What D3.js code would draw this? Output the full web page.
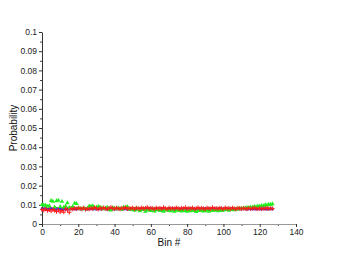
<!DOCTYPE html>
<html>
<head>
<meta charset="utf-8">
<script src="https://cdn.jsdelivr.net/npm/d3@7"></script>
<style>
  html, body { margin: 0; padding: 0; background: #fff; }
  svg { display: block; font-family: "Liberation Sans", Arial, sans-serif; }
</style>
</head>
<body>
<div id="chart"></div>
<script>
/* ── Data ─────────────────────────────────────────────────────────── */

const xTicks = [0, 20, 40, 60, 80, 100, 120, 140];
const yTicks = [0, 0.01, 0.02, 0.03, 0.04, 0.05, 0.06, 0.07, 0.08, 0.09, 0.1];
const yTickLabels = ['0', '0.01', '0.02', '0.03', '0.04', '0.05', '0.06', '0.07', '0.08', '0.09', '0.1'];

// bins 0..127
const blackVals = [
  0.0081, 0.0080, 0.0082, 0.0079, 0.0080, 0.0081, 0.0079, 0.0080, 0.0082, 0.0080, 0.0079, 0.0081, 0.0080, 0.0078, 0.0081, 0.0080,
  0.0079, 0.0081, 0.0080, 0.0082, 0.0080, 0.0079, 0.0081, 0.0080, 0.0078, 0.0080, 0.0081, 0.0079, 0.0080, 0.0082, 0.0080, 0.0079,
  0.0080, 0.0081, 0.0079, 0.0080, 0.0078, 0.0080, 0.0081, 0.0079, 0.0080, 0.0082, 0.0079, 0.0080, 0.0081, 0.0078, 0.0080, 0.0079,
  0.0081, 0.0080, 0.0079, 0.0080, 0.0082, 0.0079, 0.0080, 0.0078, 0.0081, 0.0080, 0.0079, 0.0081, 0.0080, 0.0078, 0.0080, 0.0081,
  0.0079, 0.0080, 0.0081, 0.0079, 0.0080, 0.0078, 0.0081, 0.0080, 0.0079, 0.0081, 0.0080, 0.0078, 0.0080, 0.0079, 0.0081, 0.0080,
  0.0079, 0.0080, 0.0081, 0.0078, 0.0080, 0.0079, 0.0081, 0.0080, 0.0079, 0.0080, 0.0081, 0.0079, 0.0080, 0.0078, 0.0080, 0.0081,
  0.0080, 0.0079, 0.0081, 0.0080, 0.0078, 0.0080, 0.0081, 0.0079, 0.0080, 0.0081, 0.0079, 0.0080, 0.0078, 0.0081, 0.0080, 0.0079,
  0.0080, 0.0081, 0.0079, 0.0080, 0.0081, 0.0079, 0.0080, 0.0078, 0.0080, 0.0081, 0.0079, 0.0080, 0.0081, 0.0079, 0.0080, 0.0080
];

const blueVals = [
  0.0078, 0.0079, 0.0078, 0.0077, 0.0078, 0.0079, 0.0078, 0.0078, 0.0077, 0.0079, 0.0078, 0.0078, 0.0079, 0.0077, 0.0078, 0.0078,
  0.0079, 0.0078, 0.0078, 0.0077, 0.0079, 0.0078, 0.0078, 0.0079, 0.0078, 0.0077, 0.0078, 0.0079, 0.0078, 0.0078, 0.0077, 0.0079,
  0.0078, 0.0078, 0.0079, 0.0078, 0.0077, 0.0078, 0.0079, 0.0078, 0.0078, 0.0077, 0.0079, 0.0078, 0.0078, 0.0079, 0.0078, 0.0077,
  0.0078, 0.0079, 0.0078, 0.0078, 0.0077, 0.0079, 0.0078, 0.0078, 0.0079, 0.0078, 0.0077, 0.0078, 0.0079, 0.0078, 0.0078, 0.0077,
  0.0079, 0.0078, 0.0078, 0.0079, 0.0078, 0.0077, 0.0078, 0.0079, 0.0078, 0.0078, 0.0077, 0.0079, 0.0078, 0.0078, 0.0079, 0.0078,
  0.0077, 0.0078, 0.0079, 0.0078, 0.0078, 0.0077, 0.0079, 0.0078, 0.0078, 0.0079, 0.0078, 0.0077, 0.0078, 0.0079, 0.0078, 0.0078,
  0.0077, 0.0079, 0.0078, 0.0078, 0.0079, 0.0078, 0.0077, 0.0078, 0.0079, 0.0078, 0.0078, 0.0077, 0.0079, 0.0078, 0.0078, 0.0079,
  0.0078, 0.0077, 0.0078, 0.0079, 0.0078, 0.0078, 0.0077, 0.0079, 0.0078, 0.0078, 0.0079, 0.0078, 0.0077, 0.0078, 0.0079, 0.0078
];

const redVals = [
  0.0075, 0.0072, 0.0078, 0.0070, 0.0074, 0.0068, 0.0076, 0.0071, 0.0065, 0.0073, 0.0063, 0.0070, 0.0062, 0.0079, 0.0074, 0.0061,
  0.0080, 0.0077, 0.0082, 0.0079, 0.0083, 0.0081, 0.0078, 0.0084, 0.0076, 0.0080, 0.0078, 0.0082, 0.0079, 0.0086, 0.0081, 0.0077,
  0.0083, 0.0079, 0.0085, 0.0080, 0.0078, 0.0082, 0.0087, 0.0081, 0.0079, 0.0084, 0.0080, 0.0078, 0.0083, 0.0081, 0.0086, 0.0079,
  0.0082, 0.0080, 0.0084, 0.0078, 0.0083, 0.0081, 0.0079, 0.0085, 0.0080, 0.0082, 0.0087, 0.0079, 0.0083, 0.0081, 0.0078, 0.0084,
  0.0080, 0.0083, 0.0079, 0.0086, 0.0081, 0.0078, 0.0084, 0.0080, 0.0082, 0.0079, 0.0085, 0.0081, 0.0078, 0.0083, 0.0080, 0.0086,
  0.0079, 0.0082, 0.0080, 0.0084, 0.0078, 0.0081, 0.0085, 0.0079, 0.0083, 0.0080, 0.0078, 0.0084, 0.0081, 0.0079, 0.0086, 0.0080,
  0.0082, 0.0079, 0.0083, 0.0081, 0.0078, 0.0085, 0.0080, 0.0082, 0.0079, 0.0084, 0.0080, 0.0078, 0.0083, 0.0081, 0.0079, 0.0082,
  0.0080, 0.0078, 0.0083, 0.0079, 0.0081, 0.0084, 0.0080, 0.0078, 0.0082, 0.0079, 0.0081, 0.0080, 0.0083, 0.0079, 0.0081, 0.0080
];

const greenVals = [
  0.0100, 0.0098, 0.0097, 0.0092, 0.0095, 0.0122, 0.0118, 0.0088, 0.0120, 0.0123, 0.0090, 0.0117, 0.0086, 0.0093, 0.0110, 0.0085,
  0.0083, 0.0091, 0.0108, 0.0106, 0.0084, 0.0080, 0.0079, 0.0082, 0.0078, 0.0081, 0.0093, 0.0092, 0.0094, 0.0083, 0.0086, 0.0091,
  0.0088, 0.0084, 0.0079, 0.0082, 0.0087, 0.0075, 0.0072, 0.0085, 0.0081, 0.0078, 0.0083, 0.0080, 0.0076, 0.0088, 0.0084, 0.0090,
  0.0077, 0.0074, 0.0079, 0.0071, 0.0083, 0.0076, 0.0068, 0.0075, 0.0079, 0.0066, 0.0072, 0.0074, 0.0070, 0.0077, 0.0067, 0.0073,
  0.0075, 0.0069, 0.0071, 0.0065, 0.0074, 0.0072, 0.0070, 0.0068, 0.0076, 0.0066, 0.0071, 0.0073, 0.0069, 0.0067, 0.0074, 0.0070,
  0.0066, 0.0072, 0.0068, 0.0075, 0.0070, 0.0064, 0.0071, 0.0069, 0.0073, 0.0067, 0.0070, 0.0072, 0.0066, 0.0074, 0.0069, 0.0071,
  0.0073, 0.0068, 0.0075, 0.0070, 0.0072, 0.0076, 0.0074, 0.0071, 0.0078, 0.0075, 0.0073, 0.0079, 0.0077, 0.0081, 0.0080, 0.0083,
  0.0082, 0.0085, 0.0084, 0.0088, 0.0086, 0.0090, 0.0089, 0.0093, 0.0092, 0.0096, 0.0095, 0.0099, 0.0098, 0.0102, 0.0101, 0.0105
];

/* ── Layout ───────────────────────────────────────────────────────── */

const W = 339, H = 256;
const margin = { top: 32, right: 43, bottom: 32, left: 42 };
const width = W - margin.left - margin.right;
const height = H - margin.top - margin.bottom;

const svg = d3.select('#chart').append('svg')
  .attr('width', W)
  .attr('height', H);

const g = svg.append('g')
  .attr('transform', 'translate(' + margin.left + ',' + margin.top + ')');

const x = d3.scaleLinear().domain([0, 140]).range([0, width]);
const y = d3.scaleLinear().domain([0, 0.1]).range([height, 0]);

/* ── Axes ─────────────────────────────────────────────────────────── */

// minor ticks first, major on top
g.append('g')
  .attr('transform', 'translate(0,' + height + ')')
  .call(d3.axisBottom(x).tickValues(d3.range(10, 140, 20)).tickSize(2).tickFormat(''))
  .call(a => a.select('.domain').remove())
  .selectAll('line').attr('stroke', '#444');

g.append('g')
  .call(d3.axisLeft(y).tickValues(d3.range(0.005, 0.1, 0.01)).tickSize(2).tickFormat(''))
  .call(a => a.select('.domain').remove())
  .selectAll('line').attr('stroke', '#444');

const xAxis = g.append('g')
  .attr('transform', 'translate(0,' + height + ')')
  .call(d3.axisBottom(x).tickValues(xTicks).tickSize(3).tickPadding(2).tickSizeOuter(0));
xAxis.select('.domain').attr('stroke', '#999').attr('stroke-width', 1.2);
xAxis.selectAll('line').attr('stroke', '#333');
xAxis.selectAll('text').attr('font-size', 8.5).attr('fill', '#222');

const yAxis = g.append('g')
  .call(d3.axisLeft(y).tickValues(yTicks).tickSize(3).tickPadding(2).tickSizeOuter(0)
    .tickFormat((d, i) => yTickLabels[i]));
yAxis.select('.domain').attr('stroke', '#333');
yAxis.selectAll('line').attr('stroke', '#333');
yAxis.selectAll('text').attr('font-size', 8.5).attr('fill', '#222');

// labels
svg.append('text')
  .attr('x', margin.left + width / 2)
  .attr('y', 246)
  .attr('text-anchor', 'middle')
  .attr('font-size', 10)
  .attr('fill', '#111')
  .text('Bin #');

svg.append('text')
  .attr('transform', 'translate(17,' + (margin.top + height / 2) + ') rotate(-90)')
  .attr('text-anchor', 'middle')
  .attr('font-size', 10)
  .attr('fill', '#111')
  .text('Probability');

/* ── Series ───────────────────────────────────────────────────────── */

const plot = g.append('g');

function toPts(vals) {
  return vals.map((v, i) => ({ bin: i, p: v }));
}

// black squares
plot.append('g').selectAll('rect')
  .data(toPts(blackVals)).join('rect')
  .attr('x', d => x(d.bin) - 1)
  .attr('y', d => y(d.p) - 1)
  .attr('width', 2).attr('height', 2)
  .attr('fill', '#222');

// blue squares
plot.append('g').selectAll('rect')
  .data(toPts(blueVals)).join('rect')
  .attr('x', d => x(d.bin) - 1.2)
  .attr('y', d => y(d.p) - 1.2)
  .attr('width', 2.4).attr('height', 2.4)
  .attr('fill', '#2233ff');

// green triangles
const tri = d3.symbol().type(d3.symbolTriangle).size(9);
plot.append('g').selectAll('path')
  .data(toPts(greenVals)).join('path')
  .attr('transform', d => 'translate(' + x(d.bin) + ',' + y(d.p) + ')')
  .attr('d', tri)
  .attr('fill', '#22ee22');

// red crosses
const cross = d3.symbol().type(d3.symbolCross).size(12);
plot.append('g').selectAll('path')
  .data(toPts(redVals)).join('path')
  .attr('transform', d => 'translate(' + x(d.bin) + ',' + y(d.p) + ')')
  .attr('d', d3.symbol().type({
    draw: function (ctx, size) {
      const r = 2.2;
      ctx.moveTo(-r, 0); ctx.lineTo(r, 0);
      ctx.moveTo(0, -r); ctx.lineTo(0, r);
    }
  }))
  .attr('fill', 'none')
  .attr('stroke', '#ff1a1a')
  .attr('stroke-width', 1);
</script>
</body>
</html>
